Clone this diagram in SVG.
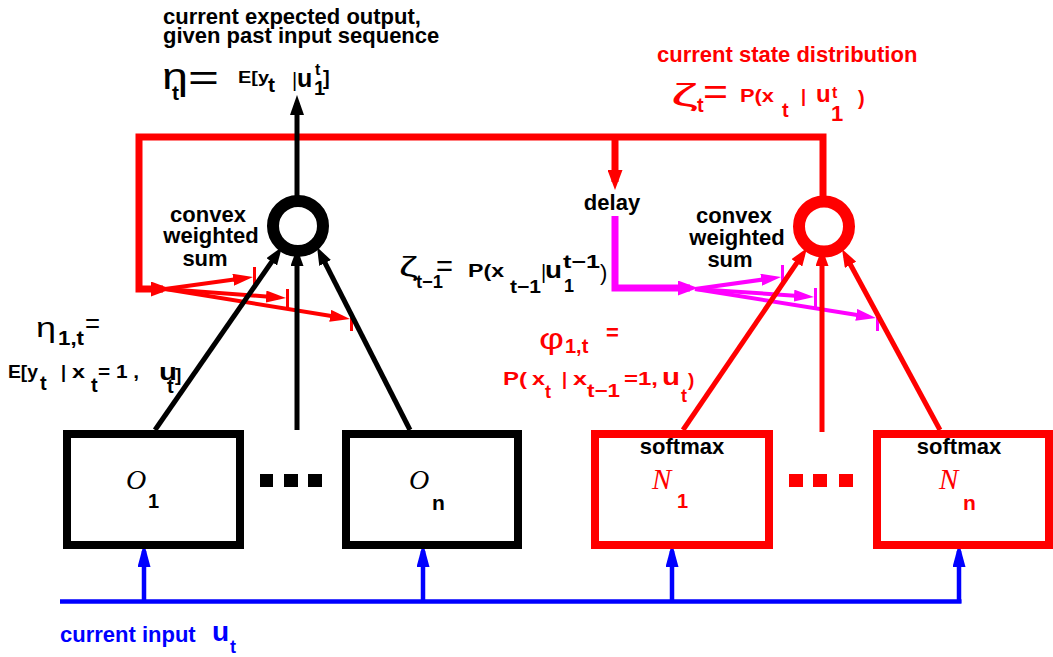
<svg xmlns="http://www.w3.org/2000/svg" width="1053" height="657" viewBox="0 0 1053 657">
<style>
text{font-family:"Liberation Sans",Arial,sans-serif;font-weight:bold;}
.g{font-weight:normal;}
.it{font-family:"Liberation Serif","Times New Roman",serif;font-style:italic;font-weight:normal;}
.k{fill:#000;}
.r{fill:#ff0000;}
.b{fill:#0000ff;}
.box{fill:#fff;stroke-width:8;}
.ring{fill:#fff;stroke-width:12;}
.kl{stroke:#000;stroke-width:5;fill:none;}
.rl{stroke:#ff0000;stroke-width:5;fill:none;}
.loop{stroke:#ff0000;stroke-width:7;fill:none;}
.ml{stroke:#ff00ff;stroke-width:7;fill:none;}
.fr{stroke:#ff0000;stroke-width:4;fill:none;}
.fm{stroke:#ff00ff;stroke-width:4;fill:none;}
.bar-r{stroke:#ff0000;stroke-width:3;}
.bar-m{stroke:#ff00ff;stroke-width:3;}
.bl{stroke:#0000ff;stroke-width:4.5;fill:none;}
</style>
<defs>
<marker id="ak" markerUnits="userSpaceOnUse" viewBox="0 0 18 13" markerWidth="18" markerHeight="13" refX="10" refY="6.5" orient="auto"><path d="M0,0 L18,6.5 L0,13 Z" fill="#000"/></marker>
<marker id="akbig" markerUnits="userSpaceOnUse" viewBox="0 0 20 14" markerWidth="20" markerHeight="14" refX="12" refY="7" orient="auto"><path d="M0,0 L20,7 L0,14 Z" fill="#000"/></marker>
<marker id="ar" markerUnits="userSpaceOnUse" viewBox="0 0 18 13" markerWidth="18" markerHeight="13" refX="10" refY="6.5" orient="auto"><path d="M0,0 L18,6.5 L0,13 Z" fill="#ff0000"/></marker>
<marker id="arbig" markerUnits="userSpaceOnUse" viewBox="0 0 20 15" markerWidth="20" markerHeight="15" refX="12" refY="7.5" orient="auto"><path d="M0,0 L20,7.5 L0,15 Z" fill="#ff0000"/></marker>
<marker id="arf" markerUnits="userSpaceOnUse" viewBox="0 0 20 12" markerWidth="20" markerHeight="12" refX="12" refY="6" orient="auto"><path d="M0,0 L20,6 L0,12 Z" fill="#ff0000"/></marker>
<marker id="amf" markerUnits="userSpaceOnUse" viewBox="0 0 20 12" markerWidth="20" markerHeight="12" refX="12" refY="6" orient="auto"><path d="M0,0 L20,6 L0,12 Z" fill="#ff00ff"/></marker>
<marker id="ambig" markerUnits="userSpaceOnUse" viewBox="0 0 20 15" markerWidth="20" markerHeight="15" refX="12" refY="7.5" orient="auto"><path d="M0,0 L20,7.5 L0,15 Z" fill="#ff00ff"/></marker>
<marker id="ab" markerUnits="userSpaceOnUse" viewBox="0 0 24 13" markerWidth="24" markerHeight="13" refX="16" refY="6.5" orient="auto"><path d="M0,0 L24,6.5 L0,13 Z" fill="#0000ff"/></marker>
</defs>
<rect x="0" y="0" width="1053" height="657" fill="#fff"/>

<g id="connectors">
<path class="loop" d="M823,196 V137 H139 V289 H163" marker-end="url(#arbig)"/>
<path class="loop" d="M615,137 V182" marker-end="url(#arbig)"/>
<path class="ml" d="M615,216 V288 H690" marker-end="url(#ambig)"/>
<line class="fr" x1="165" y1="289" x2="245.1" y2="278.1" marker-end="url(#arf)"/>
<line class="fr" x1="165" y1="289" x2="278" y2="297.4" marker-end="url(#arf)"/>
<line class="fr" x1="165" y1="289" x2="342.1" y2="317.7" marker-end="url(#arf)"/>
<line class="bar-r" x1="254.5" y1="267" x2="254.5" y2="284"/>
<line class="bar-r" x1="287.5" y1="289" x2="287.5" y2="308"/>
<line class="bar-r" x1="351.5" y1="312" x2="351.5" y2="331"/>
<line class="fm" x1="695" y1="289" x2="773.1" y2="278.1" marker-end="url(#amf)"/>
<line class="fm" x1="695" y1="289" x2="806" y2="296.4" marker-end="url(#amf)"/>
<line class="fm" x1="695" y1="289" x2="868.1" y2="316.7" marker-end="url(#amf)"/>
<line class="bar-m" x1="782.5" y1="265" x2="782.5" y2="283"/>
<line class="bar-m" x1="815.5" y1="288" x2="815.5" y2="307"/>
<line class="bar-m" x1="877.5" y1="312" x2="877.5" y2="331"/>
<line class="kl" x1="297" y1="196" x2="297" y2="103" marker-end="url(#akbig)"/>
<line class="kl" x1="155" y1="430" x2="277.4" y2="253.6" marker-end="url(#ak)"/>
<line class="kl" x1="297" y1="430" x2="297" y2="256" marker-end="url(#ak)"/>
<line class="kl" x1="410" y1="430" x2="320.6" y2="254.1" marker-end="url(#ak)"/>
<line class="rl" x1="683" y1="430" x2="802.5" y2="254.6" marker-end="url(#ar)"/>
<line class="rl" x1="822" y1="432" x2="822" y2="256" marker-end="url(#ar)"/>
<line class="rl" x1="940" y1="430" x2="845.8" y2="256" marker-end="url(#ar)"/>
<path class="bl" d="M60,601.5 H961.5"/>
<line class="bl" x1="144" y1="603" x2="144" y2="551" marker-end="url(#ab)"/>
<line class="bl" x1="423" y1="603" x2="423" y2="551" marker-end="url(#ab)"/>
<line class="bl" x1="672" y1="603" x2="672" y2="551" marker-end="url(#ab)"/>
<line class="bl" x1="959" y1="603" x2="959" y2="551" marker-end="url(#ab)"/>
</g>

<g id="sum-black"><circle class="ring" cx="298" cy="226" r="25" stroke="#000"/></g>
<g id="sum-red"><circle class="ring" cx="824" cy="226.5" r="25" stroke="#ff0000"/></g>

<g id="O1">
<rect class="box" x="67" y="434" width="173" height="111" stroke="#000"/>
<text class="it k" x="126" y="489" font-size="28">O</text>
<text class="k" x="148" y="508" font-size="20">1</text>
</g>
<g id="On">
<rect class="box" x="346" y="434" width="172" height="111" stroke="#000"/>
<text class="it k" x="409" y="489" font-size="28">O</text>
<text class="k" x="432" y="510" font-size="21">n</text>
</g>
<g id="N1">
<rect class="box" x="595" y="434" width="174" height="111" stroke="#ff0000"/>
<text class="k" x="682" y="454" font-size="22" text-anchor="middle">softmax</text>
<text class="it r" x="652" y="489" font-size="29">N</text>
<text class="r" x="677" y="508" font-size="20">1</text>
</g>
<g id="Nn">
<rect class="box" x="877" y="434" width="172" height="111" stroke="#ff0000"/>
<text class="k" x="959" y="454" font-size="22" text-anchor="middle">softmax</text>
<text class="it r" x="939" y="489" font-size="29">N</text>
<text class="r" x="963" y="510" font-size="21">n</text>
</g>

<g id="dots">
<rect x="260" y="474" width="13" height="13" fill="#000"/>
<rect x="284" y="474" width="14" height="13" fill="#000"/>
<rect x="308" y="474" width="14" height="13" fill="#000"/>
<rect x="789" y="474" width="14" height="13" fill="#ff0000"/>
<rect x="813" y="474" width="14" height="13" fill="#ff0000"/>
<rect x="839" y="474" width="14" height="13" fill="#ff0000"/>
</g>

<g id="label-output">
<text class="k" x="163" y="24" font-size="22">current expected output,</text>
<text class="k" x="163" y="43" font-size="22">given past input sequence</text>
<text class="g k" x="162" y="89" font-size="36" textLength="26" lengthAdjust="spacingAndGlyphs">η</text>
<text class="k" x="172" y="100" font-size="21">t</text>
<text class="g k" x="188" y="90" font-size="36" textLength="31" lengthAdjust="spacingAndGlyphs">=</text>
<text class="k" x="238" y="83" font-size="17" textLength="31" lengthAdjust="spacingAndGlyphs">E[y</text>
<text class="k" x="268" y="92" font-size="21">t</text>
<text class="g k" x="292" y="87" font-size="20">|</text>
<text class="k" x="297" y="87" font-size="25">u</text>
<text class="k" x="315" y="75" font-size="16">t</text>
<text class="k" x="314" y="95" font-size="20">1</text>
<text class="k" x="323" y="85" font-size="20">]</text>
</g>

<g id="label-state">
<text class="r" x="657" y="62" font-size="22">current state distribution</text>
<text class="g r" x="671" y="106" font-size="32" textLength="27" lengthAdjust="spacingAndGlyphs">ζ</text>
<text class="r" x="697" y="112" font-size="20">t</text>
<text class="g r" x="703" y="104" font-size="36" textLength="25" lengthAdjust="spacingAndGlyphs">=</text>
<text class="r" x="740" y="102" font-size="18" textLength="34" lengthAdjust="spacingAndGlyphs">P(x</text>
<text class="r" x="782" y="117" font-size="20">t</text>
<text class="r" x="801" y="102" font-size="18">|</text>
<text class="r" x="816" y="102" font-size="24">u</text>
<text class="r" x="832" y="98" font-size="16">t</text>
<text class="r" x="831" y="121" font-size="22">1</text>
<text class="r" x="858" y="105" font-size="20">)</text>
</g>

<g id="label-prev-state">
<text class="g k" x="399" y="276" font-size="28" textLength="19" lengthAdjust="spacingAndGlyphs">ζ</text>
<text class="k" x="416" y="288" font-size="18" textLength="27" lengthAdjust="spacingAndGlyphs">t−1</text>
<text class="g k" x="436" y="276" font-size="30" textLength="17" lengthAdjust="spacingAndGlyphs">=</text>
<text class="k" x="468" y="277" font-size="18" textLength="36" lengthAdjust="spacingAndGlyphs">P(x</text>
<text class="k" x="510" y="293" font-size="18" textLength="31" lengthAdjust="spacingAndGlyphs">t−1</text>
<text class="g k" x="541" y="279" font-size="20">|</text>
<text class="k" x="545" y="278" font-size="24" textLength="17" lengthAdjust="spacingAndGlyphs">u</text>
<text class="k" x="563" y="268" font-size="18" textLength="37" lengthAdjust="spacingAndGlyphs">t−1</text>
<text class="k" x="564" y="292" font-size="18">1</text>
<text class="g k" x="600" y="280" font-size="22">)</text>
</g>

<g id="label-trans">
<text class="g r" x="539" y="349" font-size="30" textLength="25" lengthAdjust="spacingAndGlyphs">φ</text>
<text class="r" x="565" y="353" font-size="20">1,t</text>
<text class="r" x="606" y="340" font-size="22">=</text>
<text class="r" x="503" y="385" font-size="18" textLength="24" lengthAdjust="spacingAndGlyphs">P(</text>
<text class="r" x="532" y="385" font-size="19" textLength="13" lengthAdjust="spacingAndGlyphs">x</text>
<text class="r" x="545" y="398" font-size="18">t</text>
<text class="r" x="562" y="385" font-size="18">|</text>
<text class="r" x="573" y="385" font-size="19" textLength="14" lengthAdjust="spacingAndGlyphs">x</text>
<text class="r" x="587" y="397" font-size="18" textLength="33" lengthAdjust="spacingAndGlyphs">t−1</text>
<text class="r" x="624" y="385" font-size="18" textLength="34" lengthAdjust="spacingAndGlyphs">=1,</text>
<text class="r" x="662" y="385" font-size="24" textLength="18" lengthAdjust="spacingAndGlyphs">u</text>
<text class="r" x="681" y="402" font-size="18">t</text>
<text class="r" x="688" y="386" font-size="19">)</text>
</g>

<g id="label-emission">
<text class="g k" x="36" y="337" font-size="28" textLength="20" lengthAdjust="spacingAndGlyphs">η</text>
<text class="k" x="58" y="345" font-size="20" textLength="26" lengthAdjust="spacingAndGlyphs">1,t</text>
<text class="g k" x="85" y="333" font-size="28" textLength="15" lengthAdjust="spacingAndGlyphs">=</text>
<text class="k" x="8" y="378" font-size="18" textLength="30" lengthAdjust="spacingAndGlyphs">E[y</text>
<text class="k" x="40" y="390" font-size="20">t</text>
<text class="k" x="61" y="378" font-size="18">|</text>
<text class="k" x="72" y="378" font-size="19" textLength="13" lengthAdjust="spacingAndGlyphs">x</text>
<text class="k" x="91" y="392" font-size="20">t</text>
<text class="k" x="98" y="378" font-size="18" textLength="41" lengthAdjust="spacingAndGlyphs">= 1 ,</text>
<text class="k" x="159" y="380" font-size="24" textLength="18" lengthAdjust="spacingAndGlyphs">u</text>
<text class="k" x="167" y="393" font-size="20">t</text>
<text class="k" x="175" y="381" font-size="19">]</text>
</g>

<g id="label-sum-left">
<text class="k" x="208" y="222" font-size="22" text-anchor="middle">convex</text>
<text class="k" x="211" y="243" font-size="22" text-anchor="middle">weighted</text>
<text class="k" x="205" y="266" font-size="22" text-anchor="middle">sum</text>
</g>
<g id="label-sum-right">
<text class="k" x="734" y="223" font-size="22" text-anchor="middle">convex</text>
<text class="k" x="737" y="245" font-size="22" text-anchor="middle">weighted</text>
<text class="k" x="730" y="267" font-size="22" text-anchor="middle">sum</text>
</g>
<g id="label-delay">
<text class="k" x="612" y="210" font-size="22" text-anchor="middle">delay</text>
</g>
<g id="label-input">
<text class="b" x="60" y="642" font-size="22">current input</text>
<text class="b" x="212" y="641" font-size="28">u</text>
<text class="b" x="230" y="653" font-size="18">t</text>
</g>
</svg>
